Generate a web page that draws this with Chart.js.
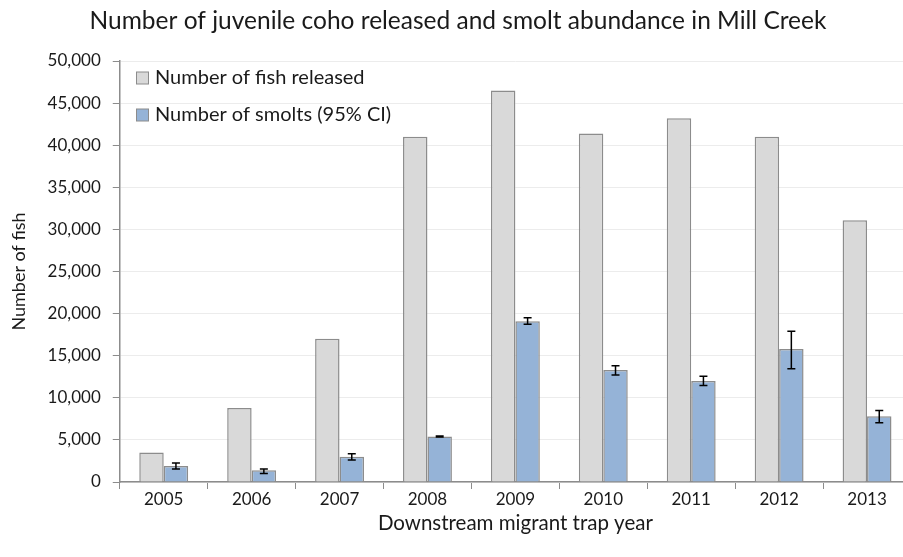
<!DOCTYPE html>
<html lang="en">
<head>
    <meta charset="UTF-8">
    <title>Juvenile coho released and smolt abundance in Mill Creek</title>
    <script src="https://cdn.jsdelivr.net/npm/chart.js"></script>
    <style>
        html, body { margin: 0; padding: 0; background: #fff; overflow: hidden; }
        #wrap { width: 920px; height: 557px; }
    </style>
</head>
<body>
    <div id="wrap"><canvas id="cohoChart" width="920" height="557"></canvas></div>
    <script>
        // values
        const years = ['2005', '2006', '2007', '2008', '2009', '2010', '2011', '2012', '2013'];
        const released = [3500, 8800, 17000, 41000, 46500, 41400, 43200, 41000, 31100];
        const smolts = [1900, 1400, 3000, 5400, 19100, 13300, 12000, 15800, 7800];
        const smoltsLow = [1550, 1000, 2600, 5330, 18750, 12700, 11450, 13450, 7050];
        const smoltsHigh = [2250, 1550, 3350, 5450, 19500, 13800, 12550, 17900, 8500];
        const yTicks = [0, 5000, 10000, 15000, 20000, 25000, 30000, 35000, 40000, 45000, 50000];

        const font = 'Lato';
        const ink = '#1a1a1a';
        const axisGray = '#8c8c8c';

        const errorBars = {
            id: 'errorBars',
            afterDatasetsDraw(chart) {
                const meta = chart.getDatasetMeta(1);
                const y = chart.scales.y;
                const ctx = chart.ctx;
                ctx.save();
                ctx.strokeStyle = '#000';
                ctx.lineWidth = 1.5;
                meta.data.forEach((bar, i) => {
                    const yHi = y.getPixelForValue(smoltsHigh[i]);
                    const yLo = y.getPixelForValue(smoltsLow[i]);
                    ctx.beginPath();
                    ctx.moveTo(bar.x, yHi);
                    ctx.lineTo(bar.x, yLo);
                    ctx.moveTo(bar.x - 4, yHi);
                    ctx.lineTo(bar.x + 4, yHi);
                    ctx.moveTo(bar.x - 4, yLo);
                    ctx.lineTo(bar.x + 4, yLo);
                    ctx.stroke();
                });
                ctx.restore();
            }
        };

        // title and in-plot legend, placed like the original
        const titleAndLegend = {
            id: 'titleAndLegend',
            afterDraw(chart) {
                const ctx = chart.ctx;
                ctx.save();
                ctx.fillStyle = ink;
                ctx.textAlign = 'center';
                ctx.textBaseline = 'middle';
                ctx.font = '24.5px ' + font;
                ctx.fillText('Number of juvenile coho released and smolt abundance in Mill Creek', 458, 21);

                ctx.textAlign = 'left';
                ctx.font = '20px ' + font;
                chart.data.datasets.forEach((ds, i) => {
                    const cy = 78 + i * 37;
                    ctx.fillStyle = ds.backgroundColor;
                    ctx.fillRect(136.5, cy - 6, 12, 12);
                    ctx.strokeStyle = axisGray;
                    ctx.lineWidth = 1;
                    ctx.strokeRect(136.5, cy - 6, 12, 12);
                    ctx.fillStyle = ink;
                    ctx.fillText(ds.label, 155, cy);
                });
                ctx.restore();
            }
        };

        new Chart(document.getElementById('cohoChart'), {
            type: 'bar',
            data: {
                labels: years,
                datasets: [{
                    label: 'Number of fish released',
                    data: released,
                    backgroundColor: '#d9d9d9',
                    borderColor: axisGray,
                    borderWidth: 1.5
                }, {
                    label: 'Number of smolts (95% CI)',
                    data: smolts,
                    backgroundColor: '#95b3d7',
                    borderColor: axisGray,
                    borderWidth: 1.5
                }]
            },
            options: {
                responsive: false,
                animation: false,
                categoryPercentage: 0.556,
                barPercentage: 1,
                layout: { padding: { top: 61, right: 9, bottom: 21, left: 8 } },
                plugins: {
                    legend: { display: false },
                    title: { display: false },
                    tooltip: { enabled: false }
                },
                scales: {
                    x: {
                        offset: true,
                        grid: { offset: true, drawOnChartArea: false, tickColor: axisGray, tickLength: 7 },
                        border: { color: axisGray, width: 1.5 },
                        ticks: { color: ink, font: { family: font, size: 17 }, padding: 0 },
                        title: { display: true, text: 'Downstream migrant trap year', color: ink, font: { family: font, size: 20.5 }, padding: { top: 2, bottom: 0 } }
                    },
                    y: {
                        min: 0,
                        max: 50000,
                        afterBuildTicks: axis => { axis.ticks = yTicks.map(v => ({ value: v })); },
                        grid: { color: '#ececec', tickColor: axisGray, tickLength: 7 },
                        border: { color: axisGray, width: 1.5 },
                        ticks: {
                            color: ink,
                            font: { family: font, size: 17 },
                            padding: 12,
                            callback: v => v.toLocaleString('en-US')
                        },
                        title: { display: true, text: 'Number of fish', color: ink, font: { family: font, size: 18 }, padding: { top: 0, bottom: 6 } }
                    }
                }
            },
            plugins: [errorBars, titleAndLegend]
        });
    </script>
</body>
</html>
